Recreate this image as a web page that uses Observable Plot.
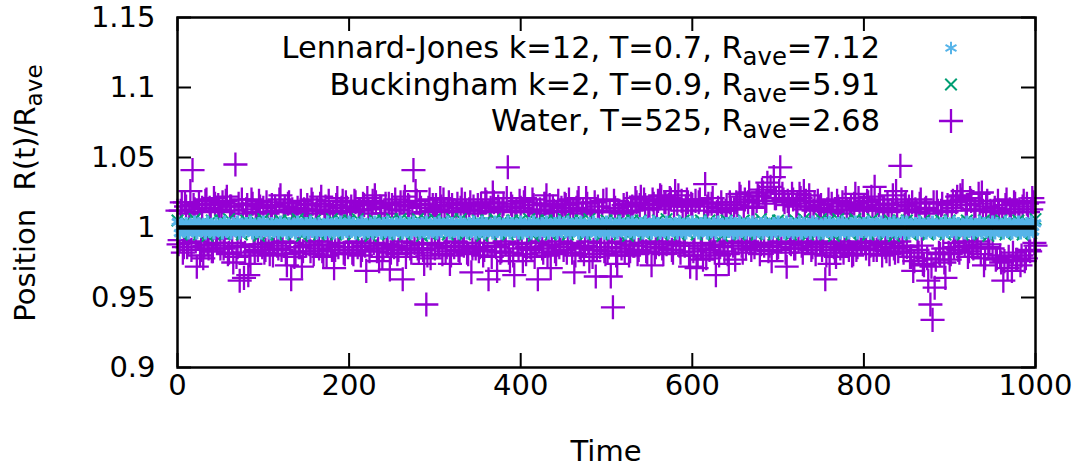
<!DOCTYPE html>
<html><head><meta charset="utf-8">
<script src="https://cdn.jsdelivr.net/npm/d3@7"></script>
<script src="https://cdn.jsdelivr.net/npm/@observablehq/plot@0.6"></script>
<style>body{margin:0;background:#fff} svg{display:block}</style>
</head><body><div id="chart"></div>
<script>
// ---------- data ----------
const xTicks = [0, 200, 400, 600, 800, 1000];
const yTicks = [0.9, 0.95, 1, 1.05, 1.1, 1.15];
const seriesColors = ["#56b4e9", "#009e73", "#9400d3"];
const legendPre = ["Lennard-Jones k=12, T=0.7, R", "Buckingham k=2, T=0.9, R", "Water, T=525, R"];
const legendSub = ["ave", "ave", "ave"];
const legendPost = ["=7.12", "=5.91", "=2.68"];
const xLabel = "Time";
const yLabelPre = "Position  R(t)/R";
const yLabelSub = "ave";

// sampling interval (time units) of each series
const waterStep = 2.5;   // waterR at t = 0, 2.5, 5, ... ; waterR2 at t = 1.25, 3.75, ...
const ljStep = 2.5;
const bkStep = 5;

const waterR = [
1.012,0.991,1.018,0.986,1.015,0.989,1.026,1.041,1.013,0.972,1.017,0.984,0.978,1.019,0.988,1.014,0.983,1.021,0.992,1.016,
0.985,1.018,0.987,1.022,0.982,1.015,0.975,1.045,0.986,0.962,1.020,0.964,1.013,0.966,0.974,1.017,0.983,1.011,1.019,0.988,
1.014,0.984,1.010,0.981,1.016,0.989,1.012,0.985,1.023,0.990,1.015,0.973,1.018,0.963,1.011,0.982,1.014,0.986,0.972,1.013,
0.987,1.012,0.983,1.017,0.990,1.013,0.985,1.022,0.979,1.015,0.988,1.011,0.984,0.971,1.016,0.986,1.012,1.019,0.981,1.014,
0.989,1.015,0.981,1.018,0.986,1.012,0.984,1.016,0.969,1.013,0.987,1.019,1.023,0.983,0.976,1.014,0.985,1.017,0.988,0.970,
1.016,0.986,1.013,0.984,1.018,0.963,1.022,0.987,1.015,0.982,1.041,1.026,0.985,1.017,0.988,0.974,0.945,1.014,0.978,1.016,
0.985,1.013,0.987,1.015,1.020,0.983,1.012,0.974,1.016,0.986,1.011,0.984,1.014,0.989,1.017,0.982,1.013,0.968,1.015,0.985,
1.016,0.986,1.012,0.984,1.018,0.963,1.014,1.025,0.987,0.969,1.013,0.983,1.017,0.988,1.043,0.976,1.015,0.966,1.012,0.985,
1.014,0.976,1.021,0.986,1.012,0.984,1.016,0.989,0.963,1.013,0.985,1.017,1.023,0.987,0.971,1.015,0.983,1.011,0.986,1.014,
0.984,1.016,0.988,1.012,0.982,0.968,1.014,1.021,0.985,1.013,0.987,1.017,0.976,1.011,0.984,0.965,1.015,0.986,1.012,0.983,
1.020,0.986,0.965,0.943,1.014,0.974,1.012,0.985,1.016,0.988,1.011,0.983,1.015,0.987,1.018,0.984,1.022,0.989,1.016,0.982,
1.014,0.973,1.017,0.986,1.019,1.023,0.985,1.018,0.988,1.016,1.020,0.982,1.026,1.017,0.987,1.019,0.989,1.015,1.018,0.972,
1.016,0.987,0.971,1.018,0.985,0.977,1.031,1.015,0.984,1.017,0.988,0.966,1.014,0.986,1.012,0.983,1.016,0.974,1.013,0.987,
0.977,1.016,1.024,0.987,1.014,0.985,1.018,0.989,1.015,0.986,1.019,1.022,0.988,1.025,1.017,1.032,0.987,0.976,1.036,1.021,
0.986,1.043,1.024,1.018,0.972,1.016,0.988,1.020,0.985,1.017,1.024,0.987,1.026,1.019,0.989,1.015,0.986,1.018,0.988,1.014,
1.016,0.988,0.963,1.013,0.974,1.017,0.986,0.979,1.015,0.985,1.018,0.987,1.012,0.984,1.016,0.981,1.024,0.986,1.014,0.989,
1.015,0.985,1.018,0.987,1.013,1.029,0.984,1.016,0.988,1.014,0.986,1.017,0.981,1.012,0.985,1.026,0.983,1.044,0.987,1.016,
0.986,1.015,0.979,0.969,1.013,0.984,1.017,0.987,0.973,1.014,0.962,0.945,0.934,0.957,1.018,0.982,1.012,0.985,0.964,1.016,
0.977,1.014,0.986,1.018,0.984,1.023,1.026,0.987,1.016,0.983,1.019,0.985,1.013,0.988,1.017,1.025,0.973,1.015,0.986,1.012,
0.985,1.014,0.978,1.012,0.975,0.962,1.016,0.971,1.013,0.969,1.018,0.977,1.011,0.973,1.015,0.976,1.017,0.984,1.013,1.018,
0.987
];

const waterR2 = [
0.988,1.012,0.982,1.018,0.986,1.010,0.984,1.016,0.990,1.011,0.980,1.014,0.987,1.020,0.985,1.012,0.983,1.017,0.989,1.013,
1.011,0.985,1.019,0.981,1.015,0.989,1.012,0.979,1.017,0.987,1.010,0.982,1.016,0.980,1.020,0.988,1.011,0.984,1.015,0.986,
0.982,1.018,0.989,1.011,0.980,1.015,0.987,1.020,0.984,1.012,0.981,1.017,0.989,1.013,0.979,1.010,0.986,1.019,0.983,1.012,
1.016,0.988,1.020,0.981,1.010,0.990,1.017,0.983,1.012,0.980,1.019,0.987,1.010,0.984,1.021,0.989,1.014,0.982,1.018,0.986,
1.011,0.982,1.019,0.990,1.013,0.980,1.017,0.987,1.021,0.983,1.010,0.989,1.018,0.985,1.015,0.979,1.010,0.988,1.017,0.982,
0.987,1.020,0.981,1.012,0.990,1.018,0.979,1.016,0.985,1.010,0.989,1.019,0.982,1.014,0.984,1.011,0.980,1.020,0.988,1.012,
1.016,0.989,1.021,0.981,1.011,0.986,1.018,0.980,1.012,0.990,1.017,0.983,1.020,0.987,1.012,0.981,1.018,0.985,1.010,0.989,
0.983,1.017,0.980,1.020,0.989,1.011,0.979,1.018,0.986,1.015,0.982,1.012,0.990,1.021,0.982,1.017,0.980,1.011,0.988,1.019,
0.989,1.018,0.981,1.011,0.986,1.020,0.979,1.012,0.990,1.010,0.982,1.017,0.980,1.016,0.988,1.012,0.981,1.019,0.990,1.011,
1.017,0.982,1.020,0.989,1.012,0.980,1.018,0.986,1.010,0.981,1.021,0.990,1.012,0.979,1.018,0.984,1.011,0.989,1.019,0.981,
0.983,1.011,0.989,1.019,0.980,1.012,0.990,1.010,0.982,1.017,0.980,1.012,0.987,1.021,0.981,1.016,0.989,1.020,0.983,1.013,
0.990,1.020,0.982,1.013,0.988,1.022,0.981,1.018,0.990,1.021,0.984,1.015,0.989,1.023,0.982,1.012,0.987,1.020,0.980,1.017,
0.983,1.019,0.980,1.020,0.989,1.012,0.978,1.017,0.987,1.021,0.982,1.011,0.980,1.018,0.990,1.012,0.981,1.018,0.989,1.013,
1.018,0.989,1.022,0.982,1.020,0.990,1.025,0.984,1.014,0.989,1.023,0.981,1.027,0.987,1.019,0.983,1.029,0.989,1.021,0.984,
1.026,0.990,1.020,0.982,1.019,0.989,1.024,0.985,1.015,0.990,1.021,0.982,1.013,0.989,1.023,0.984,1.012,0.981,1.019,0.990,
0.984,1.012,0.980,1.020,0.989,1.011,0.982,1.019,0.990,1.010,0.982,1.021,0.988,1.013,0.980,1.017,0.984,1.021,0.990,1.012,
0.989,1.019,0.981,1.022,0.984,1.012,0.990,1.020,0.980,1.014,0.983,1.011,0.989,1.023,0.982,1.013,0.990,1.020,0.982,1.018,
1.012,0.979,1.018,0.976,1.011,0.982,1.020,0.974,1.013,0.978,1.010,0.972,1.018,0.977,1.012,0.981,1.017,0.975,1.011,0.982,
0.981,1.019,0.989,1.022,0.982,1.020,0.990,1.012,0.979,1.021,0.986,1.013,0.990,1.024,0.981,1.012,0.978,1.019,0.988,1.011,
1.012,0.977,1.019,0.980,1.010,0.976,1.020,0.979,1.011,0.982,1.017,0.977,1.013,0.980,1.019,0.978,1.011,0.983,1.021,0.989
];

const bkR = [
1.005,0.995,1.004,0.996,1.006,0.995,1.004,0.994,1.005,0.996,1.005,0.995,1.006,0.996,1.004,0.995,1.005,0.996,1.005,0.994,
1.006,0.995,1.004,0.995,1.005,0.996,1.005,0.995,1.006,0.994,1.005,0.996,1.005,0.995,1.004,0.996,1.006,0.995,1.005,0.996,
1.005,0.995,1.006,0.996,1.004,0.994,1.005,0.996,1.005,0.995,1.006,0.996,1.006,0.995,1.005,0.996,1.006,0.994,1.005,0.995,
1.006,0.996,1.005,0.995,1.006,0.996,1.006,0.995,1.004,0.996,1.005,0.994,1.005,0.995,1.006,0.996,1.005,0.995,1.005,0.996,
1.005,0.995,1.006,0.994,1.005,0.996,1.005,0.995,1.005,0.996,1.006,0.995,1.005,0.996,1.005,0.995,1.006,0.996,1.004,0.995,
1.005,0.996,1.005,0.995,1.005,0.994,1.005,0.996,1.005,0.995,1.004,0.996,1.005,0.995,1.006,0.996,1.004,0.995,1.005,0.996,
1.004,0.995,1.005,0.996,1.005,0.995,1.004,0.994,1.005,0.996,1.004,0.995,1.005,0.996,1.004,0.995,1.006,0.996,1.005,0.995,
1.005,0.996,1.004,0.995,1.005,0.996,1.006,0.995,1.004,0.996,1.006,0.995,1.005,0.994,1.006,0.996,1.005,0.995,1.006,0.996,
1.005,0.995,1.006,0.996,1.004,0.995,1.005,0.994,1.005,0.996,1.005,0.995,1.004,0.996,1.005,0.995,1.004,0.996,1.005,0.995,
1.005,0.996,1.004,0.995,1.005,0.996,1.004,0.995,1.005,0.994,1.004,0.996,1.005,0.995,1.004,0.996,1.005,0.995,1.004,0.996,
1.006
];

const ljR = [
1.004,0.996,1.002,0.997,1.003,0.996,1.001,0.998,1.004,0.996,1.003,0.999,1.002,0.996,1.004,0.997,1.000,0.996,1.003,0.998,
1.002,0.996,1.004,0.997,1.001,0.996,1.003,0.998,1.004,0.996,1.002,0.997,1.003,0.999,1.004,0.996,1.001,0.997,1.003,0.996,
1.004,0.998,1.002,0.996,1.003,0.997,1.000,0.996,1.004,0.998,1.002,0.996,1.003,0.997,1.001,0.996,1.004,0.998,1.002,0.997,
1.003,0.996,1.004,0.997,1.002,0.996,1.003,0.998,1.001,0.996,1.004,0.997,1.002,0.996,1.003,0.999,1.004,0.996,1.002,0.997,
1.004,0.997,1.003,0.996,1.001,0.998,1.004,0.996,1.002,0.997,1.003,0.996,1.004,0.999,1.002,0.996,1.003,0.997,1.004,0.996,
1.002,0.996,1.003,0.998,1.004,0.996,1.001,0.997,1.003,0.996,1.004,0.998,1.002,0.996,1.003,0.997,1.004,0.996,1.000,0.997,
1.003,0.996,1.004,0.997,1.002,0.998,1.004,0.996,1.003,0.997,1.001,0.996,1.004,0.998,1.002,0.996,1.003,0.997,1.004,0.996,
1.002,0.997,1.004,0.996,1.003,0.998,1.001,0.996,1.004,0.997,1.003,0.996,1.002,0.999,1.004,0.996,1.003,0.997,1.002,0.996,
1.004,0.996,1.002,0.997,1.003,0.996,1.004,0.998,1.001,0.996,1.003,0.997,1.004,0.996,1.002,0.998,1.003,0.996,1.004,0.997,
1.003,0.997,1.004,0.996,1.002,0.998,1.003,0.996,1.004,0.997,1.001,0.996,1.003,0.998,1.004,0.996,1.002,0.997,1.003,0.996,
1.004,0.996,1.003,0.997,1.001,0.996,1.004,0.998,1.002,0.996,1.003,0.997,1.004,0.996,1.002,0.999,1.003,0.996,1.004,0.997,
1.002,0.996,1.004,0.998,1.003,0.996,1.001,0.997,1.004,0.996,1.002,0.998,1.003,0.996,1.004,0.997,1.002,0.996,1.003,0.998,
1.004,0.997,1.002,0.996,1.003,0.998,1.004,0.996,1.001,0.997,1.003,0.996,1.004,0.998,1.002,0.996,1.003,0.997,1.004,0.996,
1.003,0.996,1.004,0.997,1.002,0.996,1.003,0.999,1.004,0.996,1.002,0.997,1.003,0.996,1.004,0.998,1.001,0.996,1.003,0.997,
1.004,0.998,1.002,0.996,1.004,0.997,1.003,0.996,1.001,0.998,1.004,0.996,1.003,0.997,1.002,0.996,1.004,0.998,1.003,0.996,
1.002,0.996,1.003,0.997,1.004,0.996,1.002,0.998,1.003,0.996,1.004,0.997,1.001,0.996,1.003,0.998,1.004,0.996,1.002,0.997,
1.003,0.997,1.004,0.996,1.002,0.998,1.003,0.996,1.004,0.997,1.002,0.996,1.003,0.998,1.004,0.996,1.001,0.997,1.004,0.996,
1.004,0.996,1.002,0.997,1.003,0.996,1.004,0.998,1.002,0.996,1.003,0.997,1.004,0.996,1.001,0.998,1.003,0.996,1.004,0.997,
1.002,0.997,1.004,0.996,1.003,0.998,1.002,0.996,1.004,0.997,1.003,0.996,1.002,0.998,1.004,0.996,1.003,0.997,1.002,0.996,
1.004,0.996,1.003,0.998,1.002,0.996,1.004,0.997,1.003,0.996,1.001,0.998,1.004,0.996,1.002,0.997,1.003,0.996,1.004,0.997,
1.003
];

// ---------- build tables ----------
const water = [
  ...waterR.map((r, i) => ({t: i * waterStep, r})),
  ...waterR2.map((r, i) => ({t: (i + 0.5) * waterStep, r}))
];
const bk = bkR.map((r, i) => ({t: i * bkStep, r}));
const lj = ljR.map((r, i) => ({t: i * ljStep, r}));

const W = 1081, H = 469;
const ML = 177, MR = 46, MT = 17, MB = 102;
const FONT = "'DejaVu Sans', sans-serif";
const FS = 29;
const LFS = 30.4;
const tickPx = 14;
const xDomain = [xTicks[0], xTicks[xTicks.length - 1]];
const yDomain = [yTicks[0], yTicks[yTicks.length - 1]];
const tLen = tickPx * (xDomain[1] - xDomain[0]) / (W - ML - MR);
const rLen = tickPx * (yDomain[1] - yDomain[0]) / (H - MT - MB);

const R_PLUS = 7.8, R_TIMES = 5.3, R_AST = 6;

const plot = Plot.plot({
  width: W, height: H,
  marginLeft: ML, marginRight: MR, marginTop: MT, marginBottom: MB,
  style: {fontFamily: FONT, fontSize: FS + "px", background: "white", overflow: "visible"},
  x: {domain: xDomain},
  y: {domain: yDomain},
  marks: [
    Plot.dot(water, {x: "t", y: "r", symbol: "plus", r: R_PLUS, stroke: seriesColors[2], strokeWidth: 2.3}),
    Plot.dot(bk, {x: "t", y: "r", symbol: "times", r: R_TIMES, stroke: seriesColors[1], strokeWidth: 2}),
    Plot.dot(lj, {x: "t", y: "r", symbol: "asterisk", r: R_AST, stroke: seriesColors[0], strokeWidth: 3.2}),
    Plot.ruleY([1], {stroke: "black", strokeWidth: 4.5}),
    Plot.frame({stroke: "black", strokeWidth: 2.5}),
    Plot.ruleY(yTicks, {x1: xDomain[0], x2: xDomain[0] + tLen, stroke: "black", strokeWidth: 2}),
    Plot.ruleY(yTicks, {x1: xDomain[1] - tLen, x2: xDomain[1], stroke: "black", strokeWidth: 2}),
    Plot.ruleX(xTicks, {y1: yDomain[0], y2: yDomain[0] + rLen, stroke: "black", strokeWidth: 2}),
    Plot.ruleX(xTicks, {y1: yDomain[1] - rLen, y2: yDomain[1], stroke: "black", strokeWidth: 2}),
    Plot.axisX(xTicks, {tickSize: 0, tickPadding: 7, label: null, fontSize: FS, tickFormat: d3.format("d")}),
    Plot.axisY(yTicks, {tickSize: 0, tickPadding: 22, label: null, fontSize: FS, tickFormat: d3.format("~g")})
  ]
});
document.getElementById("chart").appendChild(plot);

const svg = d3.select(plot);
const g = svg.append("g").attr("font-family", FONT).attr("font-size", FS).attr("fill", "black");

// x label
g.append("text").attr("x", (ML + W - MR) / 2).attr("y", 461).attr("text-anchor", "middle").text(xLabel);

// y label (rotated, with subscript)
const yl = g.append("text").attr("transform", `translate(35,${(MT + H - MB) / 2 + 1}) rotate(-90)`)
  .attr("text-anchor", "middle").style("white-space", "pre");
yl.append("tspan").text(yLabelPre);
yl.append("tspan").attr("font-size", FS * 0.8).attr("dy", 7).text(yLabelSub);

// legend
const legendSymbols = [d3.symbolAsterisk, d3.symbolTimes, d3.symbolPlus];
const legendSizes = [Math.PI * R_AST * R_AST, Math.PI * R_TIMES * R_TIMES, Math.PI * R_PLUS * R_PLUS];
const legendWidths = [2, 2, 2.3];
legendPre.forEach((pre, k) => {
  const yb = 58 + k * 36.5;
  const t = g.append("text").attr("x", 880).attr("y", yb).attr("text-anchor", "end").attr("font-size", LFS);
  t.append("tspan").text(pre);
  t.append("tspan").attr("font-size", LFS * 0.8).attr("dy", 7).text(legendSub[k]);
  t.append("tspan").attr("dy", -7).text(legendPost[k]);
  g.append("path").attr("transform", `translate(951,${yb - 10})`)
    .attr("d", d3.symbol(legendSymbols[k], legendSizes[k])())
    .attr("fill", "none").attr("stroke", seriesColors[k]).attr("stroke-width", legendWidths[k]);
});
</script>
</body></html>
